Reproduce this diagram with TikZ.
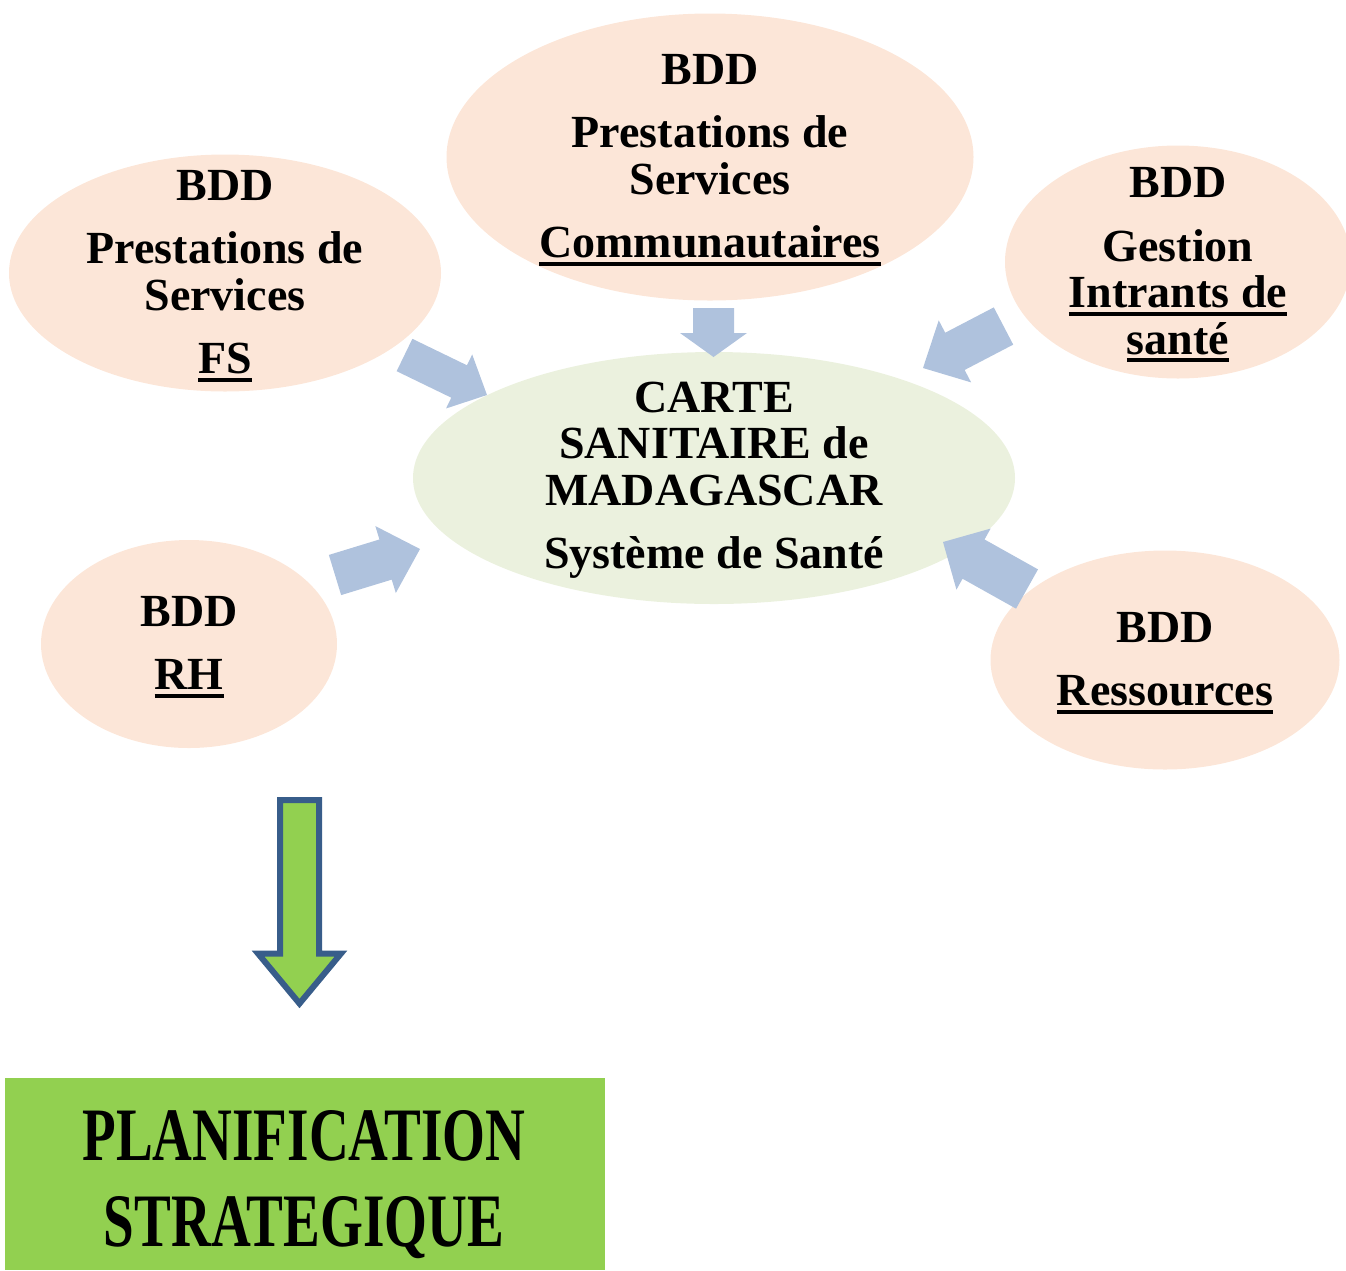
\documentclass[tikz,border=0pt]{standalone}
\usepackage{fontspec}
\usepackage{graphicx}
\setmainfont{Liberation Serif}
\usetikzlibrary{shapes.geometric,calc}

\definecolor{peach}{HTML}{FCE6D8}
\definecolor{sage}{HTML}{EBF1DE}
\definecolor{steel}{HTML}{AFC2DD}
\definecolor{leaf}{HTML}{92D050}
\definecolor{navy}{HTML}{385D8A}

% thick underline sitting a little below the baseline
\newsavebox\ulbox
\newcommand\ulk[1]{\sbox\ulbox{#1}\rlap{\rule[-8pt]{\wd\ulbox}{4pt}}\usebox\ulbox}
% paragraph break inside a bubble
\newcommand\gap{\\[17pt]}

\tikzset{
  bubble/.style={ellipse, fill=peach, inner sep=0pt},
  hub/.style={bubble, fill=sage},
  label/.style={inner sep=0pt, align=center,
    font=\fontsize{46}{46.5}\selectfont\bfseries},
  arr/.style={fill=steel},
}

% block arrow: tail, tip, half shaft width, half head width, head length
\newcommand\blockarr[5]{%
  \coordinate (hb) at ($(#2)!#5!(#1)$);
  \fill[arr] ($(#1)!#3!90:(#2)$) -- ($(hb)!#3!90:(#2)$) -- ($(hb)!#4!90:(#2)$)
    -- (#2) -- ($(hb)!#4!-90:(#2)$) -- ($(hb)!#3!-90:(#2)$)
    -- ($(#1)!#3!-90:(#2)$) -- cycle;}

\begin{document}
\begin{tikzpicture}[x=1pt,y=-1pt]
\useasboundingbox (0,0) rectangle (1346,1270);
\clip (0,0) rectangle (1346,1270);

% data bases
\node[bubble, minimum width=432pt, minimum height=237pt] (fs) at (225,273) {};
\node[label] (fs-t) at ($(fs.center)+(0,3)$)
  {BDD\gap Prestations de\\Services\gap\ulk{FS}};
\node[bubble, minimum width=527pt, minimum height=287pt] (comm) at (710,157) {};
\node[label] (comm-t) at ($(comm.center)+(0,3)$)
  {BDD\gap Prestations de\\Services\gap\ulk{Communautaires}};
\node[bubble, minimum width=346pt, minimum height=233pt] (intr) at (1178,262) {};
\node[label] (intr-t) at ($(intr.center)+(0,3)$)
  {BDD\gap Gestion\\\ulk{Intrants de}\\\ulk{santé}};
\node[bubble, minimum width=296pt, minimum height=208pt] (rh) at (189,644) {};
\node[label] (rh-t) at ($(rh.center)+(0,3)$) {BDD\gap\ulk{RH}};
\node[bubble, minimum width=349pt, minimum height=219pt] (res) at (1165,660) {};
\node[label] (res-t) at ($(res.center)+(0,3)$) {BDD\gap\ulk{Ressources}};

% health map
\node[hub, minimum width=602pt, minimum height=252pt] (carte) at (714,478) {};
\node[label] (carte-t) at ($(carte.center)+(0,2)$)
  {CARTE\\SANITAIRE de\\MADAGASCAR\gap Système de Santé};

% feeding arrows
\coordinate (t1) at (404.5,355);  \coordinate (p1) at (487,395);
\coordinate (t2) at (713.5,308);  \coordinate (p2) at (713.5,357);
\coordinate (t3) at (1003.5,326); \coordinate (p3) at (923,368);
\coordinate (t4) at (335,575);    \coordinate (p4) at (420,549);
\coordinate (t5) at (1027,589);   \coordinate (p5) at (943,542);
\blockarr{t1}{p1}{18pt}{30pt}{31pt}
\blockarr{t2}{p2}{20.5pt}{33.5pt}{24pt}
\blockarr{t3}{p3}{21pt}{35pt}{36pt}
\blockarr{t4}{p4}{21pt}{35pt}{36pt}
\blockarr{t5}{p5}{22.5pt}{35pt}{35pt}

% downward arrow
\draw[navy, line width=6pt, fill=leaf, line join=miter]
  (280,800) -- (319,800) -- (319,953.5) -- (341,953.5) -- (299.5,1003.5)
  -- (258,953.5) -- (280,953.5) -- cycle;

% planning box
\node[fill=leaf, minimum width=600pt, minimum height=192pt, inner sep=0pt] (plan) at (305,1174) {};
\node[align=center, inner sep=0pt, font=\fontsize{75.5}{86}\selectfont\bfseries] (plan-t) at (304,1185)
  {\scalebox{0.73}[1]{PLANIFICATION}\\\scalebox{0.73}[1]{STRATEGIQUE}};
\end{tikzpicture}
\end{document}
